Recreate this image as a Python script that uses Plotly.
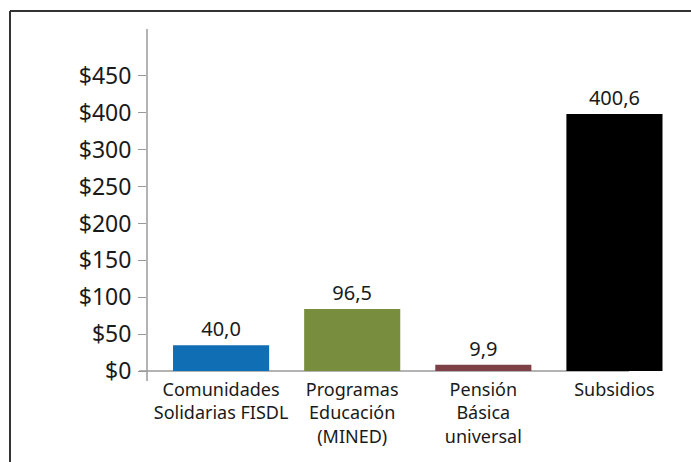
import plotly.graph_objects as go

# ---- data ----
categories = ["Comunidades<br>Solidarias FISDL", "Programas<br>Educación<br>(MINED)",
              "Pensión<br>Básica<br>universal", "Subsidios"]
values = [40.0, 96.5, 9.9, 400.6]
bar_colors = ["#106EB4", "#788E3E", "#7E4047", "#000000"]
y_tick_labels = ["$0", "$50", "$100", "$150", "$200", "$250", "$300", "$400", "$450"]

# ---- layout constants (pixels) ----
W, H = 691, 462
L, R, T, B = 147, 11, 29, 91
tick_step = 57.5  # spacing of the (uniformly spaced) tick marks in axis units
y_tick_pos = [i * tick_step for i in range(len(y_tick_labels))]

pw = W - L - R
ph = H - T - B
def px_x(p):
    return (p - L) / pw
def px_y(p):
    return (H - B - p) / ph

font = "Noto Sans"

fig = go.Figure(go.Bar(
    x=list(range(len(categories))),
    y=values,
    marker=dict(color=bar_colors, line=dict(width=0)),
    width=0.733,
    text=values,
    texttemplate="%{y:.1f}",
    textposition="outside",
    textfont=dict(family=font, size=20, color="#1a1a1a"),
    cliponaxis=False,
    hoverinfo="skip",
))

fig.update_layout(
    width=W, height=H,
    margin=dict(l=L, r=R, t=T, b=B, pad=0),
    paper_bgcolor="white", plot_bgcolor="white",
    separators=",.",
    showlegend=False,
    font=dict(family=font, color="#1a1a1a"),
    xaxis=dict(
        range=[-0.565, 3.5],
        tickvals=list(range(len(categories))),
        ticktext=categories,
        showgrid=False, zeroline=False, showline=False,
        ticks="",
        tickfont=dict(family=font, size=18, color="#1a1a1a"),
        ticklabelstandoff=6,
    ),
    yaxis=dict(
        range=[0, (H - B - T) / 0.6415],
        tickvals=y_tick_pos,
        ticktext=y_tick_labels,
        showgrid=False, zeroline=False, showline=False,
        ticks="outside", ticklen=8, tickcolor="#9a9a9a", tickwidth=1.2,
        tickfont=dict(family=font, size=23, color="#1a1a1a"),
        ticklabelstandoff=2,
    ),
    shapes=[
        # y axis line
        dict(type="line", xref="paper", yref="paper", layer="below",
             x0=0, x1=0, y0=1, y1=px_y(381),
             line=dict(color="#9a9a9a", width=1.5)),
        # x axis line
        dict(type="line", xref="paper", yref="paper", layer="below",
             x0=px_x(139), x1=px_x(629), y0=0, y1=0,
             line=dict(color="#9a9a9a", width=1.5)),
        # frame left
        dict(type="line", xref="paper", yref="paper",
             x0=px_x(10), x1=px_x(10), y0=px_y(11), y1=px_y(470),
             line=dict(color="#333333", width=2)),
        # frame top
        dict(type="line", xref="paper", yref="paper",
             x0=px_x(10), x1=px_x(700), y0=px_y(11), y1=px_y(11),
             line=dict(color="#333333", width=2)),
    ],
)

fig.write_html(
    "out.html",
    config={"displayModeBar": False},
    post_script="document.body.style.margin='0';document.body.style.padding='0';",
)
